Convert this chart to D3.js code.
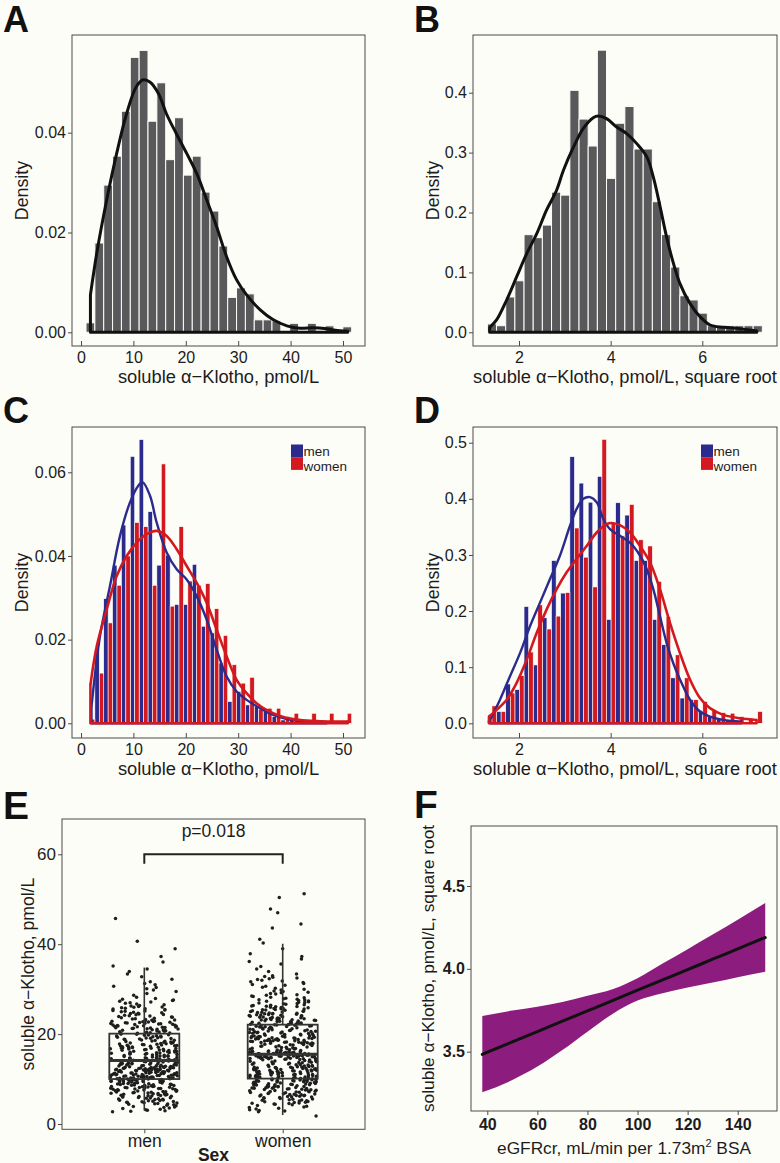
<!DOCTYPE html>
<html><head><meta charset="utf-8">
<script src="https://cdn.jsdelivr.net/npm/d3@7"></script>
<style>
html,body{margin:0;padding:0;background:#fdfdf8;}
svg{display:block;}
</style></head><body>
<script>
// ---------------- DATA ----------------
// Panel A: histogram of soluble alpha-Klotho (pmol/L), 30 bins
const binA_center0 = 1.8, binA_width = 1.69;
const histA = [0.0019,0.0179,0.0295,0.0353,0.0443,0.0551,0.0565,0.0423,0.0500,0.0346,0.0430,0.0315,0.0353,0.0281,0.0243,0.0173,0.0070,0.0089,0.0077,0.0025,0.0025,0.0023,0,0.0018,0,0.0018,0,0.0013,0,0.0011];
const densA_x = [1.8,3.0,4.9,6.8,8.7,10.6,11.9,13.2,14.8,16.3,18.2,20.2,22.1,24.0,25.9,27.8,29.7,31.6,34.2,36.7,39.3,41.8,44.3,46.9,49.4,50.9];
const densA_y = [0.0075,0.0158,0.0265,0.0358,0.0438,0.0493,0.0506,0.0501,0.0478,0.0438,0.0398,0.0358,0.0318,0.0265,0.0211,0.0151,0.0105,0.0075,0.0045,0.0025,0.0013,0.0008,0.0009,0.0007,0.0003,0.0002];

// Panel B: square root scale, 30 bins
const binB_center0 = 1.41, binB_width = 0.2;
const histB = [0.014,0.011,0.059,0.086,0.163,0.158,0.179,0.234,0.229,0.404,0.356,0.311,0.471,0.257,0.349,0.377,0.306,0.306,0.218,0.163,0.109,0.061,0.054,0.032,0.011,0.011,0.011,0.011,0.011,0.011];
const densB_x = [1.36,1.51,1.73,1.95,2.17,2.39,2.60,2.82,2.97,3.19,3.40,3.62,3.73,3.91,4.13,4.35,4.57,4.79,4.93,5.08,5.22,5.37,5.51,5.73,5.95,6.17,6.46,6.82,7.19];
const densB_y = [0.008,0.0206,0.0539,0.0928,0.1317,0.165,0.2039,0.2372,0.2706,0.3094,0.34,0.3583,0.3611,0.3567,0.3428,0.3317,0.315,0.2928,0.2594,0.2094,0.1594,0.115,0.0817,0.0483,0.0261,0.0122,0.0083,0.0061,0.0022];

// Panel C: by sex, pmol/L
const histC_men   = [0,0.0176,0.0298,0.0378,0.0474,0.0638,0.0678,0.0506,0.0378,0.0402,0.0284,0.0284,0.0380,0.0232,0.0216,0.0144,0.0052,0.0076,0.0044,0.0040,0.0028,0.0016,0.0008,0.0008,0,0,0.0008,0,0,0];
const histC_women = [0.001,0.012,0.024,0.033,0.040,0.048,0.047,0.033,0.062,0.028,0.047,0.034,0.033,0.0334,0.0274,0.021,0.014,0.0096,0.011,0.0034,0.0036,0.0036,0.0016,0.0024,0,0.0024,0,0.0024,0,0.0024];
const densC_men_x = [2.0,3.62,5.53,7.44,9.35,10.94,11.77,13.17,14.44,16.35,18.26,20.17,22.07,23.98,25.89,27.8,29.7,31.6,34.2,36.7,39.3,41.8,44.5,46.8];
const densC_men_y = [0.004,0.0208,0.0328,0.0448,0.0528,0.0568,0.0576,0.0544,0.048,0.0408,0.0368,0.0344,0.0304,0.0248,0.0176,0.0112,0.0076,0.0056,0.0036,0.002,0.001,0.0006,0.0003,0.0002];
const densC_women_x = [1.8,3.0,4.9,6.81,8.72,10.63,12.53,14.44,16.35,18.26,20.17,22.07,23.98,25.89,27.8,29.7,31.6,33.5,35.4,37.98,40.5,43.1,45.6,48.1,50.9];
const densC_women_y = [0.0092,0.0184,0.0272,0.0352,0.04,0.0432,0.0452,0.046,0.0448,0.0416,0.0376,0.0336,0.0288,0.0224,0.016,0.0104,0.0072,0.0048,0.0032,0.00176,0.001,0.00064,0.0005,0.0004,0.0004];

// Panel D: by sex, square root
const histD_men   = [0.006,0.021,0.07,0.06,0.208,0.104,0.188,0.29,0.232,0.475,0.428,0.394,0.44,0.185,0.393,0.371,0.29,0.29,0.185,0.14,0.081,0.045,0.042,0.023,0.012,0.009,0.006,0.005,0.001,0];
const histD_women = [0.031,0.021,0.054,0.085,0.127,0.211,0.168,0.191,0.233,0.348,0.296,0.243,0.506,0.356,0.334,0.39,0.327,0.316,0.253,0.19,0.122,0.081,0.042,0.039,0.024,0.019,0.018,0.012,0.009,0.021];
const densD_men_x = [1.37,1.585,1.804,2.022,2.24,2.458,2.676,2.895,3.113,3.258,3.404,3.549,3.695,3.84,3.985,4.204,4.422,4.64,4.785,4.931,5.076,5.222,5.367,5.513,5.731,5.949,6.167,6.458,6.85];
const densD_men_y = [0.006,0.042,0.084,0.125,0.173,0.215,0.257,0.299,0.352,0.382,0.4,0.403,0.394,0.364,0.346,0.334,0.322,0.299,0.275,0.239,0.191,0.143,0.107,0.078,0.042,0.021,0.012,0.006,0.003];
const densD_women_x = [1.345,1.513,1.731,1.949,2.167,2.385,2.604,2.822,3.04,3.258,3.476,3.695,3.913,4.022,4.204,4.422,4.64,4.858,5.076,5.295,5.513,5.731,5.949,6.167,6.458,6.822,7.185];
const densD_women_y = [0.012,0.024,0.042,0.072,0.113,0.161,0.203,0.239,0.269,0.293,0.316,0.34,0.355,0.357,0.353,0.34,0.316,0.287,0.239,0.179,0.125,0.078,0.045,0.027,0.015,0.009,0.006];

// Panel E: boxplot by sex
const boxCats = ["men","women"];
const boxLow  = [3.0, 2.0];
const boxQ1   = [10.0, 10.1];
const boxMed  = [14.1, 15.5];
const boxQ3   = [20.1, 22.1];
const boxHigh = [34.8, 40.1];
const groupN  = [470, 520];   // points per group, drawn from panel C bin densities
const pLabel  = "p=0.018";

// Panel F: spline fit with 95% CI
const fitX     = [38,50,60,70,80,90,100,110,120,130,140,151];
const fitY     = [3.484,3.559,3.621,3.684,3.746,3.808,3.871,3.933,3.995,4.058,4.120,4.189];
const fitUpper = [3.716,3.748,3.772,3.800,3.837,3.877,3.944,4.032,4.119,4.207,4.296,4.397];
const fitLower = [3.255,3.329,3.410,3.510,3.621,3.728,3.809,3.853,3.887,3.917,3.950,3.982];

// Tick labels
const ticksA_x = [0,10,20,30,40,50], ticksA_y = [0,0.02,0.04];
const ticksB_x = [2,4,6], ticksB_y = [0,0.1,0.2,0.3,0.4];
const ticksC_y = [0,0.02,0.04,0.06];
const ticksD_y = [0,0.1,0.2,0.3,0.4,0.5];
const ticksE_y = [0,20,40,60];
const ticksF_x = [40,60,80,100,120,140], ticksF_y = [3.5,4.0,4.5];

// ---------------- DRAW ----------------
const FONT = '"Liberation Sans", Arial, Helvetica, sans-serif';
const BG = "#fdfdf8", INK = "#1c1c1c", AX = "#4a4a4a";
const GRAY = "#59595b", BLUE = "#2b2b8e", RED = "#d3191f", PURPLE = "#8c1d7e";
const svg = d3.select("body").append("svg").attr("width",780).attr("height",1163).style("font-family",FONT);
svg.append("rect").attr("width",780).attr("height",1163).attr("fill",BG);

function frame(g,f){
  g.append("rect").attr("x",f.l).attr("y",f.t).attr("width",f.r-f.l).attr("height",f.b-f.t)
   .attr("fill","none").attr("stroke",AX).attr("stroke-width",1);
}
function styleAxis(a,fs,bold){
  a.attr("font-family",FONT).attr("font-size",fs);
  a.select(".domain").remove();
  a.selectAll("line").attr("stroke",AX).attr("stroke-width",1);
  a.selectAll("text").attr("fill",INK).attr("font-weight",bold?"bold":"normal");
}
function yAxis(g,f,y,vals,fmt,fs,bold){
  const a=g.append("g").attr("transform",`translate(${f.l},0)`)
    .call(d3.axisLeft(y).tickValues(vals).tickFormat(fmt).tickSize(4).tickPadding(2));
  styleAxis(a,fs,bold);
}
function xAxis(g,f,x,vals,fmt,fs,bold,inward,pad){
  const a=g.append("g").attr("transform",`translate(0,${f.b})`)
    .call(d3.axisBottom(x).tickValues(vals).tickFormat(fmt).tickSize(inward?-5:4).tickPadding(pad));
  styleAxis(a,fs,bold);
}
function label(txt,x,y,fs){
  svg.append("text").attr("x",x).attr("y",y).attr("font-size",fs).attr("font-weight","bold")
    .attr("fill","#111").text(txt);
}
function yTitle(g,txt,x,y,fs){
  g.append("text").attr("transform",`translate(${x},${y}) rotate(-90)`).attr("text-anchor","middle")
    .attr("font-size",fs).attr("fill",INK).text(txt);
}
function xTitle(g,txt,x,y,fs,bold){
  return g.append("text").attr("x",x).attr("y",y).attr("text-anchor","middle").attr("font-size",fs)
    .attr("font-weight",bold?"bold":"normal").attr("fill",INK).text(txt);
}

function histPanel(p){
  const g=svg.append("g");
  const x=d3.scaleLinear().domain(p.xd).range(p.xr);
  const y=d3.scaleLinear().domain(p.yd).range(p.yr);
  const n=p.series.length;
  p.series.forEach((s,si)=>{
    g.append("g").selectAll("rect").data(s.values).join("rect")
      .attr("x",(d,k)=>x(p.c0+k*p.w-p.w/2+si*p.w/n))
      .attr("width",(d,k)=>x(p.c0+k*p.w-p.w/2+(si+1)*p.w/n)-x(p.c0+k*p.w-p.w/2+si*p.w/n))
      .attr("y",d=>y(d)).attr("height",d=>Math.max(0,y(0)-y(d)))
      .attr("fill",s.color).attr("stroke",d=>d>0?BG:"none").attr("stroke-width",p.gap);
  });
  p.curves.forEach(c=>{
    const pts=c.x.map((v,i)=>[x(v),y(c.y[i])]);
    g.append("path").attr("d",d3.line().curve(d3.curveCatmullRom)(pts))
      .attr("fill","none").attr("stroke",c.color).attr("stroke-width",c.sw).attr("stroke-linejoin","round");
    const L=c.x.length-1;
    const base=[[x(c.x[0]),y(c.y[0])],[x(c.x[0]),y(0)],[x(c.x[L]),y(0)],[x(c.x[L]),y(c.y[L])]];
    g.append("path").attr("d",d3.line()(base)).attr("fill","none").attr("stroke",c.color)
      .attr("stroke-width",c.sw).attr("stroke-linejoin","round").attr("stroke-linecap","round");
  });
  frame(g,p.f);
  yAxis(g,p.f,y,p.yt,p.yfmt,16,false);
  xAxis(g,p.f,x,p.xt,d3.format("d"),16,false,true,5.2);
  yTitle(g,"Density",p.ytx,(p.f.t+p.f.b)/2,17.8);
  xTitle(g,p.xtitle,(p.f.l+p.f.r)/2,p.f.b+36.5,18.3);
  if(p.legend){
    const lg=g.append("g");
    [["men",BLUE],["women",RED]].forEach((d,i)=>{
      lg.append("rect").attr("x",p.legend[0]).attr("y",p.legend[1]+i*12.7).attr("width",12).attr("height",12.7).attr("fill",d[1]);
      lg.append("text").attr("x",p.legend[0]+12.5).attr("y",p.legend[1]+11+i*15.2).attr("font-size",13.5).attr("fill",INK).text(d[0]);
    });
  }
}

const titleLin = "soluble \u03b1\u2212Klotho, pmol/L";
const titleSqrt = "soluble \u03b1\u2212Klotho, pmol/L, square root";

histPanel({f:{l:72,r:365,t:35,b:346}, xd:[0,50], xr:[81,343], yd:[0,0.04], yr:[332.3,132.7],
  c0:binA_center0, w:binA_width, gap:1, series:[{values:histA,color:GRAY}],
  curves:[{x:densA_x,y:densA_y,color:"#111",sw:3}],
  xt:ticksA_x, yt:ticksA_y, yfmt:d3.format(".2f"), ytx:28, xtitle:titleLin});
histPanel({f:{l:473,r:777,t:35,b:346}, xd:[2,6], xr:[519,702.3], yd:[0,0.4], yr:[332.3,92.7],
  c0:binB_center0, w:binB_width, gap:1, series:[{values:histB,color:GRAY}],
  curves:[{x:densB_x,y:densB_y,color:"#111",sw:3}],
  xt:ticksB_x, yt:ticksB_y, yfmt:d3.format(".1f"), ytx:439, xtitle:titleSqrt});
histPanel({f:{l:72,r:365,t:427,b:738}, xd:[0,50], xr:[81,343], yd:[0,0.06], yr:[723.3,472.3],
  c0:binA_center0, w:binA_width, gap:0.6, series:[{values:histC_men,color:BLUE},{values:histC_women,color:RED}],
  curves:[{x:densC_men_x,y:densC_men_y,color:BLUE,sw:2.4},{x:densC_women_x,y:densC_women_y,color:RED,sw:2.6}],
  xt:ticksA_x, yt:ticksC_y, yfmt:d3.format(".2f"), ytx:28, xtitle:titleLin, legend:[291,444.5]});
histPanel({f:{l:473,r:777,t:427,b:738}, xd:[2,6], xr:[519,702.3], yd:[0,0.5], yr:[723.3,442.7],
  c0:binB_center0, w:binB_width, gap:0.6, series:[{values:histD_men,color:BLUE},{values:histD_women,color:RED}],
  curves:[{x:densD_men_x,y:densD_men_y,color:BLUE,sw:2.4},{x:densD_women_x,y:densD_women_y,color:RED,sw:2.6}],
  xt:ticksB_x, yt:ticksD_y, yfmt:d3.format(".1f"), ytx:439, xtitle:titleSqrt, legend:[701,444.5]});

// ---- Panel E ----
(function(){
  const f={l:62,r:365,t:819,b:1129.3};
  const g=svg.append("g");
  const x=d3.scalePoint().domain(boxCats).range([144.3,282.7]);
  const y=d3.scaleLinear().domain([0,60]).range([1124,854.3]);
  const half=35;
  // points from the per-sex bin densities of panel C: values spread evenly inside each bin,
  // horizontal jitter from a deterministic quadratic Weyl sequence (layout only)
  const groupHist=[histC_men,histC_women];
  const pts=[]; let idx=0;
  boxCats.forEach((cat,gi)=>{
    groupHist[gi].forEach((dens,k)=>{
      const cnt=Math.round(dens*groupN[gi]*binA_width);
      const lo=binA_center0+k*binA_width-binA_width/2;
      for(let j=0;j<cnt;j++){
        idx++;
        const u=(idx*idx*0.6180339887+idx*0.4142135624)%1;
        pts.push({cat, val:lo+(j+0.5)/cnt*binA_width, jit:u-0.5});
      }
    });
  });
  g.append("g").selectAll("circle").data(pts).join("circle")
    .attr("cx",d=>x(d.cat)+d.jit*2*half*0.97).attr("cy",d=>y(d.val)).attr("r",1.75).attr("fill","#1e1e1e");
  const bx=g.append("g").attr("stroke","#333").attr("fill","none");
  boxCats.forEach((cat,i)=>{
    const cx=x(cat);
    bx.append("line").attr("x1",cx).attr("x2",cx).attr("y1",y(boxQ3[i])).attr("y2",y(boxHigh[i])).attr("stroke-width",1.6);
    bx.append("line").attr("x1",cx).attr("x2",cx).attr("y1",y(boxQ1[i])).attr("y2",y(boxLow[i])).attr("stroke-width",1.6);
    bx.append("rect").attr("x",cx-half).attr("width",2*half).attr("y",y(boxQ3[i])).attr("height",y(boxQ1[i])-y(boxQ3[i])).attr("stroke-width",1.8);
    bx.append("line").attr("x1",cx-half).attr("x2",cx+half).attr("y1",y(boxMed[i])).attr("y2",y(boxMed[i])).attr("stroke-width",3);
  });
  // significance bracket
  g.append("path").attr("d",d3.line()([[x("men"),y(57.9)],[x("men"),y(60)],[x("women"),y(60)],[x("women"),y(57.9)]]))
    .attr("fill","none").attr("stroke","#222").attr("stroke-width",2);
  g.append("text").attr("x",(x("men")+x("women"))/2).attr("y",y(60)-17).attr("text-anchor","middle")
    .attr("font-size",17.5).attr("fill",INK).text(pLabel);
  frame(g,f);
  yAxis(g,f,y,ticksE_y,d3.format("d"),17,false);
  xAxis(g,f,x,boxCats,d=>d,17.5,false,false,1.1);
  yTitle(g,titleLin,34,(f.t+f.b)/2,17.5);
  xTitle(g,"Sex",(x("men")+x("women"))/2,1160.5,17.5,true);
})();

// ---- Panel F ----
(function(){
  const f={l:471,r:777,t:826,b:1111};
  const g=svg.append("g");
  const x=d3.scaleLinear().domain([40,140]).range([487.3,737.7]);
  const y=d3.scaleLinear().domain([3.5,4.5]).range([1051.7,886]);
  const band=fitX.map((v,i)=>({x:v,u:fitUpper[i],l:fitLower[i]}));
  g.append("path").attr("d",d3.area().x(d=>x(d.x)).y0(d=>y(d.l)).y1(d=>y(d.u)).curve(d3.curveMonotoneX)(band))
    .attr("fill",PURPLE);
  g.append("path").attr("d",d3.line().x((d,i)=>x(d)).y((d,i)=>y(fitY[i])).curve(d3.curveMonotoneX)(fitX))
    .attr("fill","none").attr("stroke","#111").attr("stroke-width",3).attr("stroke-linecap","round");
  frame(g,f);
  yAxis(g,f,y,ticksF_y,d3.format(".1f"),16,true);
  xAxis(g,f,x,ticksF_x,d3.format("d"),16,true,false,3.6);
  yTitle(g,titleSqrt,434,(f.t+f.b)/2,17.3);
  const t=xTitle(g,"",(f.l+f.r)/2,1154,17.3,false);
  t.append("tspan").text("eGFRcr, mL/min per 1.73m");
  t.append("tspan").attr("dy",-7).attr("font-size",11).text("2");
  t.append("tspan").attr("dy",7).text(" BSA");
})();

label("A",3,32,36); label("B",414,32,36);
label("C",3,423,36); label("D",414,423,36);
label("E",3,819,39); label("F",414,818,39);
</script>
</body></html>
